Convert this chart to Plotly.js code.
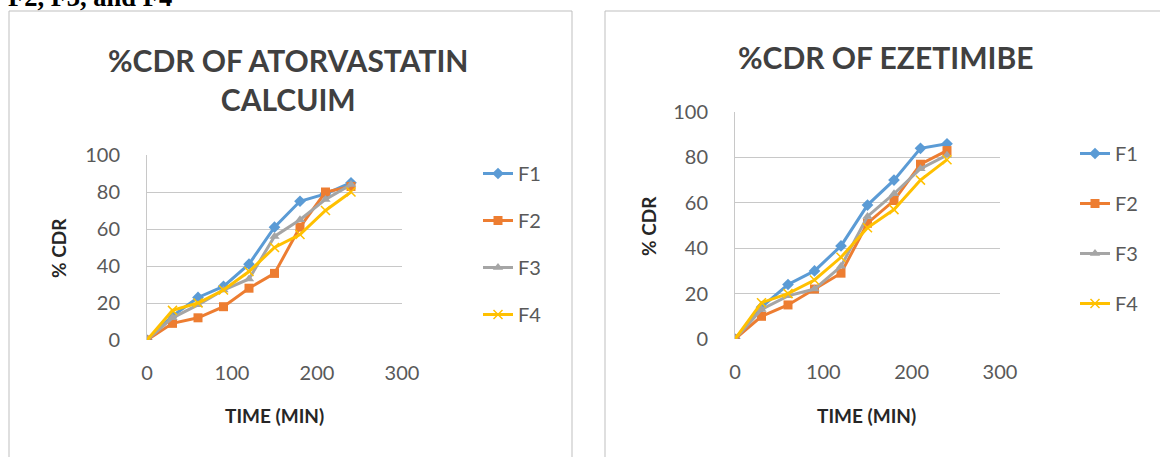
<!DOCTYPE html>
<html>
<head>
<meta charset="utf-8">
<script src="https://cdn.plot.ly/plotly-3.0.1.min.js"></script>
<style>
  html, body { margin: 0; padding: 0; background: #ffffff; overflow: hidden; }
  #wrap { position: relative; width: 1160px; height: 457px; }
  #chart { position: absolute; left: 0; top: 0; width: 1160px; height: 457px; }
  #caption {
    position: absolute; left: 8px; top: -16px; z-index: 5;
    font-family: "Liberation Serif", "Times New Roman", serif;
    font-weight: bold; font-size: 26.5px; line-height: 26px; color: #000;
    white-space: nowrap;
  }
</style>
</head>
<body>
<div id="wrap">
  <div id="chart"></div>
  <div id="caption">F2, F3, and F4</div>
</div>
<script>
// Sampling times (min)
const times = [0, 30, 60, 90, 120, 150, 180, 210, 240];

// % cumulative drug release, atorvastatin calcium
const atorF1 = [0, 13, 23, 29, 41, 61, 75, 79, 85];
const atorF2 = [0, 9, 12, 18, 28, 36, 61, 80, 83];
const atorF3 = [0, 12, 19, 27, 33, 56, 65, 76, 84];
const atorF4 = [0, 16, 20, 27, 37, 50, 57, 70, 80];

// % cumulative drug release, ezetimibe
const ezeF1 = [0, 14, 24, 30, 41, 59, 70, 84, 86];
const ezeF2 = [0, 10, 15, 22, 29, 51, 61, 77, 83];
const ezeF3 = [0, 13, 19, 22, 32, 54, 64, 75, 81];
const ezeF4 = [0, 16, 20, 26, 36, 49, 57, 70, 79];

const seriesNames = ["F1", "F2", "F3", "F4"];
const xTicks = [0, 100, 200, 300];
const yTicks = [0, 20, 40, 60, 80, 100];

const W = 1160, H = 457;
const px = v => v / W;
const py = v => 1 - v / H;

const colors = ["#5B9BD5", "#ED7D31", "#A5A5A5", "#FFC000"];
const symbols = ["diamond", "square", "triangle-up", "x-thin-open"];
const sizes = [9, 9, 9, 9];

function makeTraces(sets, xa, ya, legendId) {
  return sets.map((vals, i) => ({
    type: "scatter",
    mode: "lines+markers",
    x: times,
    y: vals,
    name: seriesNames[i],
    xaxis: xa,
    yaxis: ya,
    legend: legendId,
    legendgroup: legendId + i,
    line: { color: colors[i], width: 3 },
    marker: {
      symbol: symbols[i], size: sizes[i], color: colors[i],
      line: { color: colors[i], width: i === 3 ? 1.5 : 0 }
    }
  }));
}

const traces = [
  ...makeTraces([atorF1, atorF2, atorF3, atorF4], "x", "y", "legend"),
  ...makeTraces([ezeF1, ezeF2, ezeF3, ezeF4], "x2", "y2", "legend2")
];

const tickFont = { family: "Lato, 'Open Sans', sans-serif", size: 20, color: "#595959" };
const gridColor = "#c8c8c8";

function xAxis(d0, d1, anchor) {
  return {
    domain: [px(d0), px(d1)], anchor: anchor, range: [0, 300],
    tickvals: xTicks, ticktext: xTicks.map(String),
    showgrid: false, zeroline: false, showline: false,
    ticks: "", tickfont: tickFont, ticklabelstandoff: 19, fixedrange: true
  };
}
function yAxis(d0, d1, anchor) {
  return {
    domain: [py(d1), py(d0)], anchor: anchor, range: [0, 100],
    tickvals: yTicks, ticktext: yTicks.map(String),
    showgrid: true, gridcolor: gridColor, gridwidth: 1,
    zeroline: false, showline: true, linecolor: gridColor, linewidth: 1,
    ticks: "", tickfont: tickFont, ticklabelstandoff: 22, fixedrange: true
  };
}

const titleFont = { family: "Lato, 'Open Sans', sans-serif", size: 30, color: "#404040", weight: "bold" };
const axTitleFont = { family: "Lato, 'Open Sans', sans-serif", size: 19, color: "#262626", weight: "bold" };
const legendFont = { family: "Lato, 'Open Sans', sans-serif", size: 20, color: "#595959" };

const layout = {
  width: W, height: H,
  margin: { l: 0, r: 0, t: 0, b: 0 },
  paper_bgcolor: "#ffffff", plot_bgcolor: "#ffffff",
  xaxis: xAxis(147, 402, "y"),
  yaxis: yAxis(155, 340, "x"),
  xaxis2: xAxis(735, 1000, "y2"),
  yaxis2: yAxis(112, 339, "x2"),
  legend: {
    x: px(478), y: py(154), xanchor: "left", yanchor: "top",
    font: legendFont, tracegroupgap: 18, bgcolor: "rgba(0,0,0,0)"
  },
  legend2: {
    x: px(1075), y: py(134), xanchor: "left", yanchor: "top",
    font: legendFont, tracegroupgap: 21, bgcolor: "rgba(0,0,0,0)"
  },
  shapes: [
    { type: "rect", xref: "paper", yref: "paper", x0: px(9), x1: px(572), y0: -0.2, y1: py(11),
      line: { color: "#bfbfbf", width: 1 }, layer: "below" },
    { type: "rect", xref: "paper", yref: "paper", x0: px(605), x1: 1.2, y0: -0.2, y1: py(11),
      line: { color: "#bfbfbf", width: 1 }, layer: "below" }
  ],
  annotations: [
    { text: "%CDR OF ATORVASTATIN<br>CALCUIM", xref: "paper", yref: "paper",
      x: px(288), y: py(79), xanchor: "center", yanchor: "middle",
      showarrow: false, font: titleFont },
    { text: "%CDR OF EZETIMIBE", xref: "paper", yref: "paper",
      x: px(885), y: py(57), xanchor: "center", yanchor: "middle",
      showarrow: false, font: titleFont },
    { text: "% CDR", xref: "paper", yref: "paper", textangle: -90,
      x: px(58), y: py(248), xanchor: "center", yanchor: "middle",
      showarrow: false, font: axTitleFont },
    { text: "% CDR", xref: "paper", yref: "paper", textangle: -90,
      x: px(648), y: py(226), xanchor: "center", yanchor: "middle",
      showarrow: false, font: axTitleFont },
    { text: "TIME (MIN)", xref: "paper", yref: "paper",
      x: px(274), y: py(415), xanchor: "center", yanchor: "middle",
      showarrow: false, font: axTitleFont },
    { text: "TIME (MIN)", xref: "paper", yref: "paper",
      x: px(866), y: py(415), xanchor: "center", yanchor: "middle",
      showarrow: false, font: axTitleFont }
  ]
};

Plotly.newPlot("chart", traces, layout, { staticPlot: true, displayModeBar: false });
</script>
</body>
</html>
